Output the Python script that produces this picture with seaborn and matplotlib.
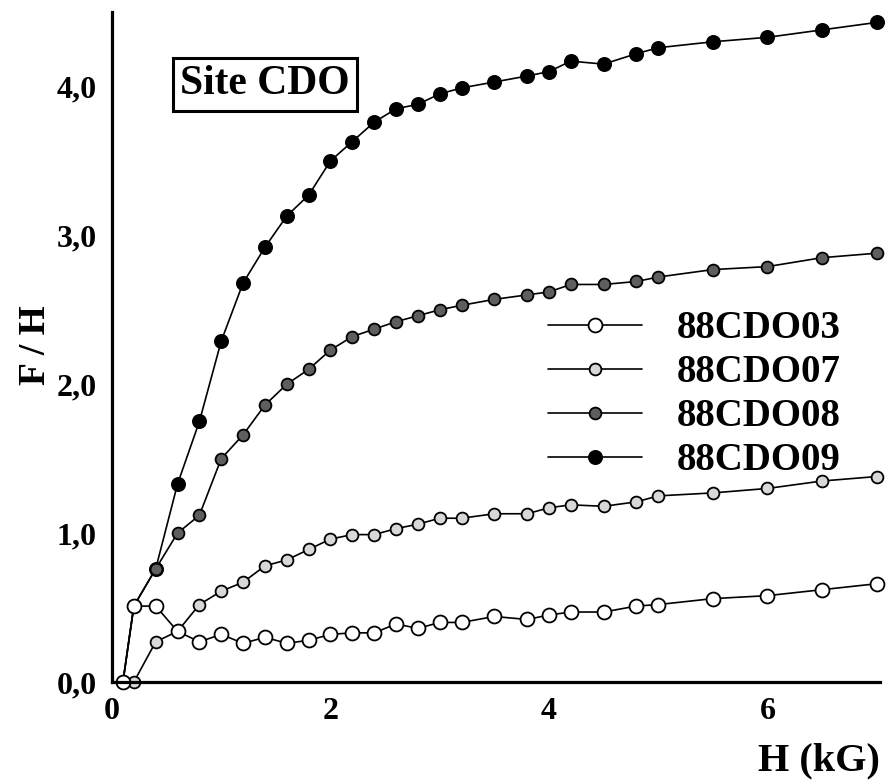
import pandas as pd
import matplotlib
matplotlib.use('Agg')
import matplotlib.pyplot as plt
import seaborn as sns

# field values H (kG)
h_long = [0.1, 0.2, 0.4, 0.6, 0.8, 1.0, 1.2, 1.4, 1.6, 1.8, 2.0,
          2.2, 2.4, 2.6, 2.8, 3.0, 3.2, 3.5, 3.8, 4.0, 4.2,
          4.5, 4.8, 5.0, 5.5, 6.0, 6.5, 7.0]
h_07 = h_long[1:]

# F / H for each sample
fh_03 = [0.0, 0.51, 0.51, 0.34, 0.27, 0.32, 0.26, 0.30, 0.26, 0.28, 0.32,
         0.33, 0.33, 0.39, 0.36, 0.40, 0.40, 0.44, 0.42, 0.45, 0.47,
         0.47, 0.51, 0.52, 0.56, 0.58, 0.62, 0.66]
fh_07 = [0.0, 0.27, 0.34, 0.52, 0.61, 0.67, 0.78, 0.82, 0.89, 0.96,
         0.99, 0.99, 1.03, 1.06, 1.10, 1.10, 1.13, 1.13, 1.17, 1.19,
         1.18, 1.21, 1.25, 1.27, 1.30, 1.35, 1.38]
fh_08 = [0.0, 0.51, 0.76, 1.00, 1.12, 1.50, 1.66, 1.86, 2.00, 2.10, 2.23,
         2.32, 2.37, 2.42, 2.46, 2.50, 2.53, 2.57, 2.60, 2.62, 2.67,
         2.67, 2.69, 2.72, 2.77, 2.79, 2.85, 2.88]
fh_09 = [0.0, 0.51, 0.76, 1.33, 1.75, 2.29, 2.68, 2.92, 3.13, 3.27, 3.50,
         3.63, 3.76, 3.85, 3.88, 3.95, 3.99, 4.03, 4.07, 4.10, 4.17,
         4.15, 4.22, 4.26, 4.30, 4.33, 4.38, 4.43]

samples = ['88CDO03', '88CDO07', '88CDO08', '88CDO09']
y_ticks = [0, 1, 2, 3, 4]
x_ticks = [0, 2, 4, 6]

sns.set_style('white')
plt.rcParams['font.family'] = ['Liberation Serif', 'DejaVu Serif']
plt.rcParams['font.weight'] = 'bold'
plt.rcParams['text.color'] = 'black'
plt.rcParams['axes.labelcolor'] = 'black'
plt.rcParams['xtick.color'] = 'black'
plt.rcParams['ytick.color'] = 'black'

fig = plt.figure(figsize=(8.88, 7.8), dpi=100)
ax = fig.add_axes([112 / 888, 1 - 682 / 780, 768 / 888, 670 / 780])

# draw from top series down so the open circles stay on top
series = [
    ('88CDO09', h_long, fh_09, 'black', 9.5),
    ('88CDO08', h_long, fh_08, '#5e5e5e', 8.5),
    ('88CDO07', h_07, fh_07, '#d8d8d8', 8.5),
    ('88CDO03', h_long, fh_03, 'white', 10),
]
for name, hx, fy, face, ms in series:
    df = pd.DataFrame({'H': hx, 'FH': fy})
    sns.lineplot(data=df, x='H', y='FH', ax=ax, color='black', linewidth=1.2,
                 marker='o', markersize=ms, markerfacecolor=face,
                 markeredgecolor='black', markeredgewidth=1.3,
                 errorbar=None, label=name, clip_on=False)

ax.set_xlim(0, 7.03)
ax.set_ylim(0, 4.5)
ax.set_xticks(x_ticks)
ax.set_xticklabels([str(t) for t in x_ticks])
ax.set_yticks(y_ticks)
ax.set_yticklabels([f'{t:.1f}'.replace('.', ',') for t in y_ticks])

for s in ['top', 'right']:
    ax.spines[s].set_visible(False)
for s in ['left', 'bottom']:
    ax.spines[s].set_linewidth(2.3)
    ax.spines[s].set_color('black')

ax.tick_params(axis='both', direction='out', length=8, width=2, colors='black',
               labelsize=23, pad=3)
for lab in ax.get_xticklabels() + ax.get_yticklabels():
    lab.set_fontweight('bold')

ax.set_xlabel('H (kG)', fontsize=29, fontweight='bold', loc='right')
ax.xaxis.set_label_coords(1.0, -0.09)
ax.set_ylabel('F / H', fontsize=27, fontweight='bold')
ax.yaxis.set_label_coords(-0.077, 0.503)

ax.text(0.199, 0.892, 'Site CDO', transform=ax.transAxes, fontsize=30,
        fontweight='bold', ha='center', va='center',
        bbox=dict(boxstyle='square,pad=0.18', facecolor='white',
                  edgecolor='black', linewidth=2.2))

handles, labels = ax.get_legend_handles_labels()
order = [labels.index(s) for s in samples]
ax.legend([handles[i] for i in order], [labels[i] for i in order],
          loc='upper left', bbox_to_anchor=(0.568, 0.555), frameon=False,
          handlelength=2.4, handletextpad=0.9, labelspacing=0.18,
          borderpad=0, borderaxespad=0, numpoints=1,
          prop={'weight': 'bold', 'size': 28})

fig.savefig('out.png', dpi=100)
